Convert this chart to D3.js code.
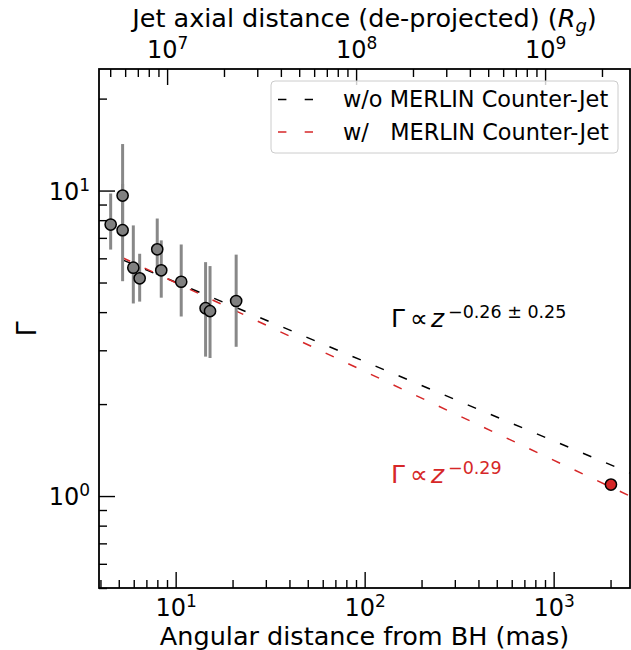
<!DOCTYPE html>
<html lang="en">
<head>
<meta charset="UTF-8">
<title>Lorentz factor vs distance</title>
<script src="https://d3js.org/d3.v7.min.js"></script>
<style>
  body { margin: 0; background: #fff; }
  svg text { font-family: "DejaVu Sans", sans-serif; fill: #000; }
</style>
</head>
<body>
<svg width="631" height="650"></svg>
<script>
// VLBI knots: distance (mas), Lorentz factor and error bar ends
const distMas   = [4.53, 5.24, 5.24, 5.97, 6.45, 7.99, 8.39, 10.7, 14.4, 15.2, 20.9];
const gammaVal  = [7.74, 9.63, 7.42, 5.59, 5.16, 6.42, 5.48, 5.03, 4.12, 4.03, 4.35];
const gammaLow  = [6.41, 7.30, 5.05, 4.27, 4.33, 5.30, 4.46, 3.87, 2.86, 2.83, 3.08];
const gammaHigh = [9.78, 14.2, 10.5, 7.69, 6.21, 8.10, 6.87, 6.66, 5.83, 5.66, 6.17];

// MERLIN counter-jet point
const merlinMas = [2010];
const merlinGamma = [1.09];

// fitted power laws, end values
const fitMas = [5.2, 2535];
const fitNoCj = [5.94, 1.19];
const fitCj = [6.04, 1.00];

const legendLabels = ["w/o MERLIN Counter-Jet", "w/   MERLIN Counter-Jet"];
const xMajor = [10, 100, 1000];
const yMajor = [1, 10];
const topMajor = [1e7, 1e8, 1e9];

const xDomain = [3.93, 2535];
const yDomain = [0.5, 25];
const masToRg = 1.11e6;

const red = "#d62728";

const svg = d3.select("svg");
const margin = {top: 69, right: 1, bottom: 62, left: 99};
const width = +svg.attr("width") - margin.left - margin.right;
const height = +svg.attr("height") - margin.top - margin.bottom;
const g = svg.append("g").attr("transform", `translate(${margin.left},${margin.top})`);

const x = d3.scaleLog().domain(xDomain).range([0, width]);
const y = d3.scaleLog().domain(yDomain).range([height, 0]);
const xTop = d3.scaleLog().domain(xDomain.map(d => d * masToRg)).range([0, width]);

const isMajor = d => Math.abs(Math.log10(d) - Math.round(Math.log10(d))) < 1e-9;

function powLabel(sel) {
    sel.each(function(d) {
        const t = d3.select(this);
        t.text(null).attr("font-size", 24);
        t.append("tspan").text("10");
        t.append("tspan").attr("dy", -9).attr("font-size", 17).text(Math.round(Math.log10(d)));
    });
}

function styleAxis(sel) {
    sel.select(".domain").remove();
    sel.selectAll(".tick line").attr("stroke", "#000").attr("stroke-width", 1.4);
}

// bottom axis
g.append("g").attr("transform", `translate(0,${height})`)
    .call(d3.axisBottom(x).tickValues(x.ticks().filter(d => !isMajor(d))).tickSize(-8).tickFormat(""))
    .call(styleAxis);
g.append("g").attr("transform", `translate(0,${height})`)
    .call(d3.axisBottom(x).tickValues(xMajor).tickSize(-16))
    .call(styleAxis)
    .call(a => a.selectAll(".tick text").attr("y", 27.5).attr("dy", null).call(powLabel));

// left axis
g.append("g")
    .call(d3.axisLeft(y).tickValues(y.ticks().filter(d => !isMajor(d))).tickSize(-8).tickFormat(""))
    .call(styleAxis);
g.append("g")
    .call(d3.axisLeft(y).tickValues(yMajor).tickSize(-16))
    .call(styleAxis)
    .call(a => a.selectAll(".tick text").attr("x", -9).attr("y", 8.5).attr("dy", null).call(powLabel));

// top axis (de-projected distance)
g.append("g")
    .call(d3.axisTop(xTop).tickValues(xTop.ticks().filter(d => !isMajor(d))).tickSize(-8).tickFormat(""))
    .call(styleAxis);
g.append("g")
    .call(d3.axisTop(xTop).tickValues(topMajor).tickSize(-16))
    .call(styleAxis)
    .call(a => a.selectAll(".tick text").attr("y", -10.7).attr("dy", null).call(powLabel));

// clip
g.append("clipPath").attr("id", "clip")
    .append("rect").attr("width", width).attr("height", height);

const plot = g.append("g").attr("clip-path", "url(#clip)");

const line = d3.line().x(d => x(d[0])).y(d => y(d[1]));

plot.append("path")
    .attr("d", line(d3.zip(fitMas, fitNoCj)))
    .attr("fill", "none").attr("stroke", "#000")
    .attr("stroke-width", 1.5).attr("stroke-dasharray", "9,16");
plot.append("path")
    .attr("d", line(d3.zip(fitMas, fitCj)))
    .attr("fill", "none").attr("stroke", red)
    .attr("stroke-width", 1.5).attr("stroke-dasharray", "9,16");

// error bars
plot.selectAll(".err")
    .data(distMas.map((d, i) => i))
    .enter().append("line")
    .attr("class", "err")
    .attr("x1", i => x(distMas[i])).attr("x2", i => x(distMas[i]))
    .attr("y1", i => y(gammaLow[i])).attr("y2", i => y(gammaHigh[i]))
    .attr("stroke", "#888").attr("stroke-width", 3);

plot.selectAll(".pt")
    .data(distMas.map((d, i) => i))
    .enter().append("circle")
    .attr("class", "pt")
    .attr("cx", i => x(distMas[i])).attr("cy", i => y(gammaVal[i]))
    .attr("r", 5.6)
    .attr("fill", "#808080").attr("stroke", "#000").attr("stroke-width", 1.5);

plot.selectAll(".mpt")
    .data(merlinMas.map((d, i) => i))
    .enter().append("circle")
    .attr("class", "mpt")
    .attr("cx", i => x(merlinMas[i])).attr("cy", i => y(merlinGamma[i]))
    .attr("r", 5.6)
    .attr("fill", red).attr("stroke", "#000").attr("stroke-width", 1.5);

// frame
g.append("rect")
    .attr("width", width).attr("height", height)
    .attr("fill", "none").attr("stroke", "#000").attr("stroke-width", 1.8);

// fit annotations
function fitNote(px, py, exp, color) {
    const t = svg.append("text").attr("y", py).attr("font-size", 25).style("fill", color);
    t.append("tspan").attr("x", px).text("Γ");
    t.append("tspan").attr("x", px + 19).text("∝");
    t.append("tspan").attr("x", px + 40).attr("font-style", "italic").text("z");
    t.append("tspan").attr("x", px + 57).attr("dy", -9).attr("font-size", 17.5).text(exp);
}
fitNote(391, 327, "−0.26 ± 0.25", "#000");
fitNote(391, 483, "−0.29", red);

// legend
const leg = svg.append("g").attr("transform", "translate(271,81)");
leg.append("rect")
    .attr("width", 347).attr("height", 72).attr("rx", 4)
    .attr("fill", "#fff").attr("fill-opacity", 0.8)
    .attr("stroke", "#ccc").attr("stroke-width", 1);
[["#000", 0], [red, 1]].forEach(([c, i]) => {
    const ly = 18.5 + i * 32.5;
    leg.append("line")
        .attr("x1", 7).attr("x2", 42).attr("y1", ly).attr("y2", ly)
        .attr("stroke", c).attr("stroke-width", 1.5).attr("stroke-dasharray", "8.4,18.3");
    leg.append("text")
        .attr("x", 72).attr("y", ly + 7.8)
        .attr("font-size", 22.4)
        .style("white-space", "pre")
        .text(legendLabels[i]);
});

// axis titles
svg.append("text")
    .attr("x", margin.left + width / 2).attr("y", 645)
    .attr("text-anchor", "middle").attr("font-size", 25.5)
    .text("Angular distance from BH (mas)");

const tt = svg.append("text")
    .attr("x", margin.left + width / 2).attr("y", 27)
    .attr("text-anchor", "middle").attr("font-size", 25.5);
tt.append("tspan").text("Jet axial distance (de-projected) (");
tt.append("tspan").attr("font-style", "italic").text("R");
tt.append("tspan").attr("font-style", "italic").attr("font-size", 18).attr("dy", 5).text("g");
tt.append("tspan").attr("dy", -5).text(")");

svg.append("text")
    .attr("transform", "translate(36,329) rotate(-90)")
    .attr("text-anchor", "middle").attr("font-size", 27)
    .text("Γ");
</script>
</body>
</html>
